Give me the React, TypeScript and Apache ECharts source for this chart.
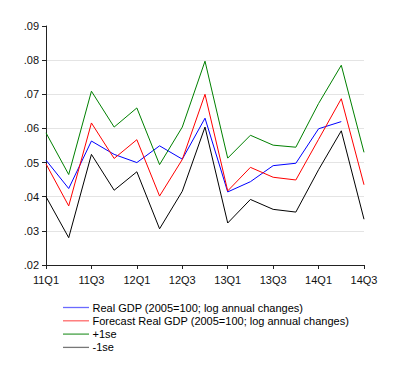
import React, { useEffect, useRef } from "react";
import * as echarts from "echarts";

const categories = [
  "11Q1", "11Q2", "11Q3", "11Q4",
  "12Q1", "12Q2", "12Q3", "12Q4",
  "13Q1", "13Q2", "13Q3", "13Q4",
  "14Q1", "14Q2", "14Q3",
];

const realGdp = [0.0507, 0.0424, 0.0563, 0.0524, 0.05, 0.0549, 0.051, 0.063, 0.0414, 0.0444, 0.0491, 0.0498, 0.0599, 0.062, null];
const forecast = [0.0496, 0.0373, 0.0616, 0.0512, 0.0567, 0.0402, 0.0509, 0.07, 0.0417, 0.0486, 0.0457, 0.0449, 0.0568, 0.0687, 0.0435];
const plusSe = [0.0587, 0.0465, 0.0709, 0.0604, 0.066, 0.0494, 0.0604, 0.0797, 0.0513, 0.058, 0.0551, 0.0545, 0.0673, 0.0785, 0.053];
const minusSe = [0.04, 0.028, 0.0524, 0.0419, 0.0473, 0.0306, 0.0416, 0.0604, 0.0323, 0.0392, 0.0363, 0.0355, 0.0479, 0.0593, 0.0334];

const seriesNames = [
  "Real GDP (2005=100; log annual changes)",
  "Forecast Real GDP (2005=100; log annual changes)",
  "+1se",
  "-1se",
];
const seriesColors = ["#0000ff", "#ff0000", "#008000", "#000000"];
const legendColors = ["#6a6aff", "#ff6a6a", "#44a044", "#777777"];

export default function App() {
  const ref = useRef<HTMLDivElement>(null);
  useEffect(() => {
    if (!ref.current) return;
    const chart = echarts.init(ref.current, undefined, { renderer: "svg" });
    const datas = [realGdp, forecast, plusSe, minusSe];
    chart.setOption({
      animation: false,
      backgroundColor: "#ffffff",
      textStyle: { fontFamily: "Liberation Sans, Arial, sans-serif" },
      grid: { left: 46, right: 36, top: 26, bottom: 114, containLabel: false },
      legend: {
        orient: "vertical",
        left: 63,
        top: 301.5,
        itemWidth: 26,
        itemHeight: 1.3,
        itemGap: 1.3,
        padding: 0,
        icon: "rect",
        textStyle: { fontSize: 11, color: "#000", lineHeight: 12, padding: [0, 0, 0, -1.5] },
        data: seriesNames.map((n, i) => ({ name: n, itemStyle: { color: legendColors[i] } })),
      },
      xAxis: {
        type: "category",
        data: categories,
        boundaryGap: false,
        axisLine: { lineStyle: { color: "#222", width: 1 } },
        axisTick: { interval: 1, length: 4, lineStyle: { color: "#222" } },
        axisLabel: { interval: 1, fontSize: 11, color: "#111", margin: 9 },
        splitLine: { show: false },
      },
      yAxis: {
        type: "value",
        min: 0.02,
        max: 0.09,
        interval: 0.01,
        axisLine: { show: true, lineStyle: { color: "#222", width: 1 } },
        axisTick: { show: true, length: 4, lineStyle: { color: "#222" } },
        axisLabel: {
          fontSize: 11,
          color: "#111",
          margin: 7,
          formatter: (v: number) => v.toFixed(2).replace(/^0/, ""),
        },
        splitLine: { show: true, showMaxLine: false, lineStyle: { color: "#e4e4e4", width: 1 } },
      },
      series: seriesNames.map((name, i) => ({
        name,
        type: "line",
        data: datas[i],
        symbol: "none",
        connectNulls: false,
        lineStyle: { color: seriesColors[i], width: 1 },
        itemStyle: { color: seriesColors[i] },
      })),
    });
    return () => chart.dispose();
  }, []);
  return (
    <div
      ref={ref}
      style={{ position: "absolute", left: 0, top: 0, width: 400, height: 379 }}
    />
  );
}
